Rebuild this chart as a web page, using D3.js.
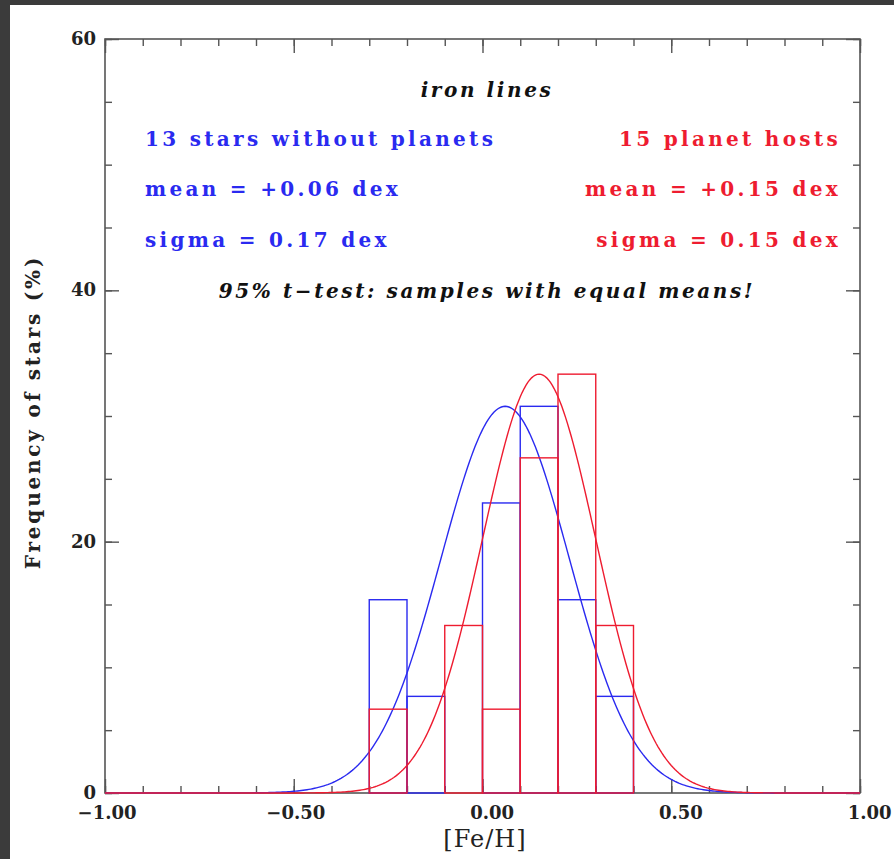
<!DOCTYPE html>
<html>
<head>
<meta charset="utf-8">
<script src="https://cdn.jsdelivr.net/npm/d3@7"></script>
<style>
	html, body { margin: 0; padding: 0; background: #3b3b3b; }
	svg { display: block; }
</style>
</head>
<body>
<svg id="chart" width="894" height="859"></svg>
<script>
// bin edges of the [Fe/H] histograms
var binEdges = [-0.3, -0.2, -0.1, 0.0, 0.1, 0.2, 0.3, 0.4];
// frequency (%) per bin
var noPlanetFreq = [15.38, 7.69, 0, 23.08, 30.77, 15.38, 7.69];   // 13 stars
var hostFreq     = [6.67, 0, 13.33, 6.67, 26.67, 33.33, 13.33];   // 15 stars

// gaussian fits quoted on the plot (peak scaled to the tallest bin)
var noPlanetFit = {mean: 0.06, sigma: 0.17, peak: 30.77};
var hostFit     = {mean: 0.15, sigma: 0.15, peak: 33.33};

var xTicksMajor = [-1, -0.5, 0, 0.5, 1];
var yTicksMajor = [0, 20, 40, 60];

var blue = "#2a2af0", red = "#ee1c30";

var svg = d3.select("#chart"),
	margin = {top: 39, right: 34, bottom: 66, left: 105},
	width = svg.attr("width") - margin.left - margin.right,
	height = svg.attr("height") - margin.top - margin.bottom;

// white page on the dark background
svg.append("rect").attr("x", 10).attr("y", 5).attr("width", 884).attr("height", 854).attr("fill", "#fff");

var g = svg.append("g").attr("transform", "translate(" + margin.left + "," + margin.top + ")");

var x = d3.scaleLinear().domain([-1, 1]).range([0, width]),
	y = d3.scaleLinear().domain([0, 60]).range([height, 0]);

var frameColor = "#555";
var tickFont = "bold 18px 'DejaVu Serif', serif";

function styleAxis(sel){
	sel.select(".domain").remove();
	sel.selectAll(".tick line").attr("stroke", frameColor).attr("stroke-width", 1.4);
}

// minor ticks
var xMinor = d3.range(-10, 11).map(function(d){ return d / 10; });
g.append("g").attr("transform", "translate(0," + height + ")")
	.call(d3.axisBottom(x).tickValues(xMinor).tickSize(-7).tickFormat("")).call(styleAxis);
g.append("g").call(d3.axisTop(x).tickValues(xMinor).tickSize(-7).tickFormat("")).call(styleAxis);
g.append("g").call(d3.axisLeft(y).tickValues(d3.range(0, 61, 5)).tickSize(-7).tickFormat("")).call(styleAxis);
g.append("g").attr("transform", "translate(" + width + ",0)")
	.call(d3.axisRight(y).tickValues(d3.range(0, 61, 5)).tickSize(-7).tickFormat("")).call(styleAxis);

// major ticks + labels
var xb = g.append("g").attr("transform", "translate(0," + height + ")")
	.call(d3.axisBottom(x).tickValues(xTicksMajor).tickSize(-14).tickPadding(13).tickFormat(d3.format(".2f")));
styleAxis(xb);
xb.selectAll("text").attr("text-anchor", "end").attr("dx", 31).attr("fill", "#222").style("font", tickFont);

g.append("g").call(d3.axisTop(x).tickValues(xTicksMajor).tickSize(-14).tickFormat("")).call(styleAxis);

var yl = g.append("g").call(d3.axisLeft(y).tickValues(yTicksMajor).tickSize(-14).tickPadding(9).tickFormat(d3.format("d")));
styleAxis(yl);
yl.selectAll("text").attr("fill", "#222").attr("dy", "0.3em").style("font", tickFont);

g.append("g").attr("transform", "translate(" + width + ",0)")
	.call(d3.axisRight(y).tickValues(yTicksMajor).tickSize(-14).tickFormat("")).call(styleAxis);

// frame
g.append("rect").attr("width", width).attr("height", height)
	.attr("fill", "none").attr("stroke", frameColor).attr("stroke-width", 1.6);

// histograms
function drawHist(freq, color){
	var bins = freq.map(function(f, i){ return {x0: binEdges[i], x1: binEdges[i + 1], f: f}; })
		.filter(function(b){ return b.f > 0; });
	g.append("g").selectAll("rect").data(bins).enter().append("rect")
		.attr("x", function(b){ return x(b.x0); })
		.attr("width", function(b){ return x(b.x1) - x(b.x0); })
		.attr("y", function(b){ return y(b.f); })
		.attr("height", function(b){ return y(0) - y(b.f); })
		.attr("fill", "none").attr("stroke", color).attr("stroke-width", 1.4);
}

var gauss = d3.line()
	.x(function(d){ return x(d[0]); })
	.y(function(d){ return y(d[1]); });

function drawFit(fit, color){
	var pts = d3.range(-1, 1.0001, 0.005).map(function(v){
		return [v, fit.peak * Math.exp(-Math.pow(v - fit.mean, 2) / (2 * fit.sigma * fit.sigma))];
	});
	g.append("path").attr("d", gauss(pts))
		.attr("fill", "none").attr("stroke", color).attr("stroke-width", 1.4);
}

drawHist(noPlanetFreq, blue);
drawFit(noPlanetFit, blue);
drawHist(hostFreq, red);
drawFit(hostFit, red);

// annotations
function note(str, px, py, anchor, color, italic){
	svg.append("text").attr("x", px).attr("y", py).attr("text-anchor", anchor)
		.attr("fill", color)
		.style("font", (italic ? "italic " : "") + "bold 20px 'DejaVu Serif', serif")
		.style("letter-spacing", italic ? "2.6px" : "3.3px").text(str);
}
note("iron lines", 487, 97, "middle", "#111", true);
note("13 stars without planets", 145, 146, "start", blue);
note("15 planet hosts", 841, 146, "end", red);
note("mean = +0.06 dex", 145, 196, "start", blue);
note("mean = +0.15 dex", 841, 196, "end", red);
note("sigma = 0.17 dex", 145, 247, "start", blue);
note("sigma = 0.15 dex", 841, 247, "end", red);
note("95% t\u2212test: samples with equal means!", 487, 298, "middle", "#111", true);

// axis titles
svg.append("text").attr("x", 485).attr("y", 847).attr("text-anchor", "middle")
	.attr("fill", "#222").style("font", "24px 'DejaVu Serif', serif").style("letter-spacing", "1px").text("[Fe/H]");
svg.append("text").attr("transform", "translate(40,412) rotate(-90)").attr("text-anchor", "middle")
	.attr("fill", "#222").style("font", "bold 20px 'DejaVu Serif', serif").style("letter-spacing", "2.8px")
	.text("Frequency of stars (%)");
</script>
</body>
</html>
